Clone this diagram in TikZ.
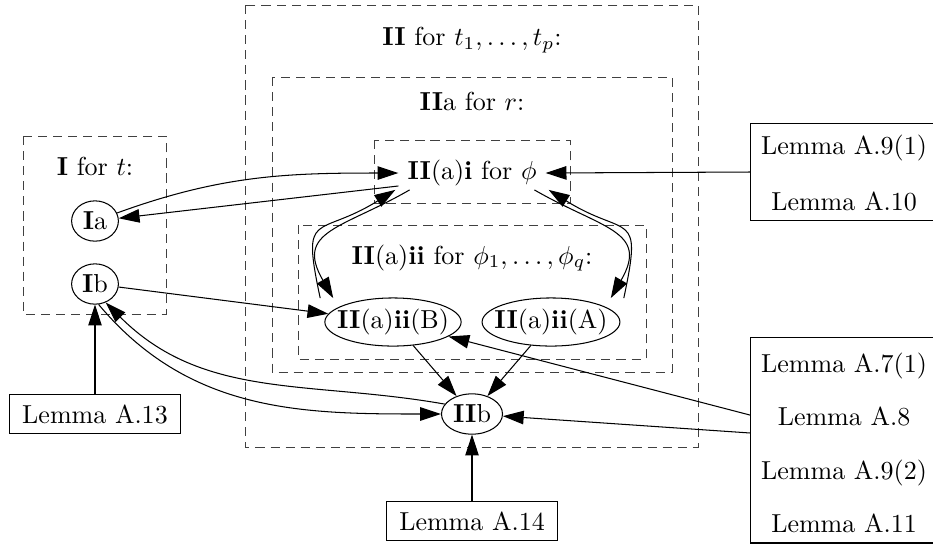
\documentclass[tikz,border=0pt]{standalone}
\usepackage{amsmath,amssymb}
\usepackage{xcolor}
\usepackage{tikz}
\usetikzlibrary{arrows.meta,shapes.geometric}

\begin{document}
\begin{tikzpicture}[
    x=0.3846pt, y=0.3846pt,
    cluster/.style={draw=black!75, dash pattern=on 3.5pt off 2.3pt, line width=0.35pt},
    state/.style={draw, ellipse, inner sep=1pt, minimum width=18pt, minimum height=15.5pt},
    wide/.style={state, inner xsep=-3pt, inner ysep=1.2pt, minimum height=18.5pt},
    lemma/.style={draw, rectangle, minimum width=66pt, minimum height=15pt},
    lemmas/.style={draw, rectangle, anchor=west, minimum width=85pt},
    arr/.style={-{Triangle[length=8pt,width=5.2pt]}, line width=0.4pt}
  ]
    \useasboundingbox (0,0) rectangle (933,-546);

    % clusters
    \draw[cluster] (23,-136) rectangle (166,-314);
    \draw[cluster] (245,-5) rectangle (698,-447);
    \draw[cluster] (272,-77) rectangle (672,-372);
    \draw[cluster] (374,-140) rectangle (570,-203);
    \draw[cluster] (298,-225) rectangle (646,-359);

    \node (lblI) at (95,-166) {\textbf{I} for $t$:};
    \node (lblII) at (472,-40) {\textbf{II} for $t_1,\ldots,t_p$:};
    \node (lblIIa) at (472,-101) {\textbf{II}a for $r$:};
    \node (lblIIaii) at (472,-258) {\textbf{II}(a)\textbf{ii} for $\phi_1,\ldots,\phi_q$:};

    % states
    \node[state] (Ia) at (95,-221) {\textbf{I}a};
    \node[state] (Ib) at (95,-284) {\textbf{I}b};
    \node (IIai) at (472,-173) {\textbf{II}(a)\textbf{i} for $\phi$};
    \node[wide] (B) at (393,-322) {\textbf{II}(a)\textbf{ii}(B)};
    \node[wide] (A) at (551,-322) {\textbf{II}(a)\textbf{ii}(A)};
    \node[state, minimum width=22pt] (IIb) at (472,-414) {\textbf{II}b};

    % lemmas
    \node[lemma] (lemA13) at (95,-414) {Lemma A.13};
    \node[lemma] (lemA14) at (472,-521) {Lemma A.14};
    \node[lemmas, minimum height=37.3pt] (lemT) at (750,-172) {};
    \node[align=center] (lemTtxt) at (844,-173) {Lemma A.9(1)\\[9.9pt]Lemma A.10};
    \node[lemmas, minimum height=79.2pt] (lemB) at (750,-440) {};
    \node[align=center] (lemBtxt) at (844,-443) {Lemma A.7(1)\\[8.5pt]Lemma A.8\\[8.5pt]Lemma A.9(2)\\[8.5pt]Lemma A.11};

    % edges
    \draw[arr] (Ia.20) to[out=20, in=180] (IIai.west);
    \draw[arr] (IIai.190) -- (Ia);
    \draw[arr] (Ib) -- (B);
    \draw[arr] (lemT.west) -- (IIai.east);

    \draw[arr] ([shift={(-28pt,9.2pt)}]B.center) to[out=102, in=212, looseness=1.8] ([shift={(-29.5pt,-6.5pt)}]IIai.center);
    \draw[arr] ([shift={(-24pt,-6.5pt)}]IIai.center) to[out=210, in=120, looseness=1.5] ([shift={(-23pt,9.2pt)}]B.center);
    \draw[arr] ([shift={(28pt,9.2pt)}]A.center) to[out=78, in=-32, looseness=1.8] ([shift={(29.5pt,-6.5pt)}]IIai.center);
    \draw[arr] ([shift={(24pt,-6.5pt)}]IIai.center) to[out=-30, in=60, looseness=1.5] ([shift={(23pt,9.2pt)}]A.center);

    \draw[arr] (B) -- (IIb);
    \draw[arr] (A) -- (IIb);
    \draw[arr] ([yshift=9.6pt]lemB.west) -- (B);
    \draw[arr] ([yshift=2.7pt]lemB.west) -- (IIb);

    \draw[arr] (IIb.160) to[out=170, in=-45] (Ib.-60);
    \draw[arr] (Ib.-80) to[out=-50, in=180] (IIb.west);
    \draw[arr] (lemA13) -- (Ib);
    \draw[arr] (lemA14) -- (IIb);
  \end{tikzpicture}
\end{document}
